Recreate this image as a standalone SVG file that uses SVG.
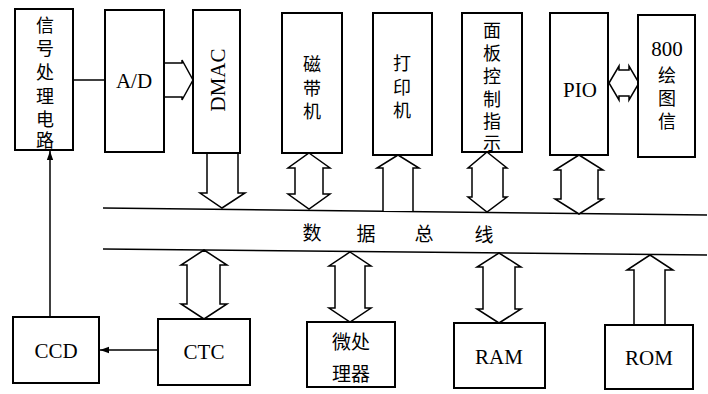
<svg xmlns="http://www.w3.org/2000/svg" width="708" height="394" viewBox="0 0 708 394">
<defs>
<marker id="ah" viewBox="0 0 10 10" refX="10" refY="5" markerWidth="9" markerHeight="9" markerUnits="userSpaceOnUse" orient="auto">
<path d="M0,1.5 L10,5 L0,8.5 Z" fill="#000"/>
</marker>
<style>
.box{fill:#fff;stroke:#000;stroke-width:2}
.cn{font-family:"Noto Sans CJK SC","Noto Sans CJK JP",sans-serif;font-size:19px;fill:#000;text-anchor:middle;dominant-baseline:central}
.vc{font-family:"Noto Sans CJK SC","Noto Sans CJK JP",sans-serif;font-size:18px;fill:#000;text-anchor:middle;dominant-baseline:central}
.lt{font-family:"Liberation Serif",serif;font-size:21px;fill:#000;text-anchor:middle;dominant-baseline:central}
.fat{fill:#fff;stroke:#000;stroke-width:1.5;stroke-linejoin:miter}
.ln{fill:none;stroke:#000;stroke-width:1.5}
</style>
</defs>
<rect width="708" height="394" fill="#fff"/>

<g id="connectors">
<line class="ln" x1="73" y1="80" x2="104" y2="80"/>
<line class="ln" x1="50" y1="317" x2="50" y2="151" marker-end="url(#ah)"/>
<line class="ln" x1="158" y1="350" x2="100" y2="350" marker-end="url(#ah)"/>
<line class="ln" x1="103" y1="208" x2="707" y2="215" stroke-width="2"/>
<line class="ln" x1="103" y1="249" x2="707" y2="255" stroke-width="2"/>
<path class="fat" d="M164,63 L182,63 L182,60 L193,80 L182,100 L182,97 L164,97"/>
<path class="fat" d="M207,153 L207,193 L200,193 L222,208 L245,193 L238,193 L238,153"/>
<path class="fat" d="M309,153 L330,168 L323,168 L323,194 L330,194 L309,209 L288,194 L295,194 L295,168 L288,168 Z"/>
<path class="fat" d="M383,211 L383,168 L377,168 L398,155 L419,168 L413,168 L413,211"/>
<path class="fat" d="M487,152 L507,168 L503,168 L503,197 L507,197 L487,212 L468,197 L472,197 L472,168 L468,168 Z"/>
<path class="fat" d="M579,155 L603,170 L598,170 L598,199 L603,199 L579,214 L555,199 L561,199 L561,170 L555,170 Z"/>
<path class="fat" d="M609,83 L619,66 L619,70 L629,70 L629,66 L639,83 L629,100 L629,96 L619,96 L619,100 Z"/>
<path class="fat" d="M204,250 L227,265 L220,265 L220,304 L227,304 L204,319 L181,304 L187,304 L187,265 L181,265 Z"/>
<path class="fat" d="M350,252 L371,266 L365,266 L365,308 L371,308 L350,322 L329,308 L335,308 L335,266 L329,266 Z"/>
<path class="fat" d="M499,253 L521,267 L515,267 L515,309 L521,309 L499,323 L477,309 L483,309 L483,267 L477,267 Z"/>
<path class="fat" d="M634,325 L634,270 L627,270 L650,255 L673,270 L665,270 L665,325"/>
</g>

<g id="bus-label">
<text class="cn" x="312" y="231">数</text>
<text class="cn" x="366" y="232">据</text>
<text class="cn" x="424" y="232">总</text>
<text class="cn" x="484" y="233">线</text>
</g>

<g id="signal">
<rect class="box" x="15" y="9" width="58" height="141"/>
<text class="vc" x="45" y="24">信</text>
<text class="vc" x="45" y="47">号</text>
<text class="vc" x="45" y="71">处</text>
<text class="vc" x="45" y="95">理</text>
<text class="vc" x="45" y="118">电</text>
<text class="vc" x="45" y="139">路</text>
</g>
<g id="ad">
<rect class="box" x="105" y="10" width="59" height="142"/>
<text class="lt" x="134" y="81" font-size="22">A/D</text>
</g>
<g id="dmac">
<rect class="box" x="193" y="10" width="47" height="143"/>
<text class="lt" x="218" y="80" transform="rotate(-90 218 80)" font-size="22">DMAC</text>
</g>
<g id="tape">
<rect class="box" x="282" y="13" width="60" height="140"/>
<text class="vc" x="312" y="63">磁</text>
<text class="vc" x="312" y="87">带</text>
<text class="vc" x="312" y="110">机</text>
</g>
<g id="printer">
<rect class="box" x="373" y="13" width="59" height="142"/>
<text class="vc" x="402" y="62">打</text>
<text class="vc" x="402" y="86">印</text>
<text class="vc" x="402" y="109">机</text>
</g>
<g id="panel">
<rect class="box" x="462" y="13" width="60" height="139"/>
<text class="vc" x="492" y="29">面</text>
<text class="vc" x="492" y="52">板</text>
<text class="vc" x="492" y="75">控</text>
<text class="vc" x="492" y="98">制</text>
<text class="vc" x="492" y="120">指</text>
<text class="vc" x="492" y="142">示</text>
</g>
<g id="pio">
<rect class="box" x="550" y="13" width="58" height="142"/>
<text class="lt" x="580" y="90" font-size="22">PIO</text>
</g>
<g id="plotter">
<rect class="box" x="638" y="15" width="57" height="142"/>
<text class="lt" x="667" y="49">800</text>
<text class="vc" x="667" y="74">绘</text>
<text class="vc" x="667" y="97">图</text>
<text class="vc" x="667" y="120">信</text>
</g>
<g id="ccd">
<rect class="box" x="13" y="317" width="86" height="66"/>
<text class="lt" x="56" y="351">CCD</text>
</g>
<g id="ctc">
<rect class="box" x="158" y="319" width="92" height="66"/>
<text class="lt" x="204" y="352">CTC</text>
</g>
<g id="cpu">
<rect class="box" x="307" y="322" width="88" height="65"/>
<text class="cn" x="351" y="340">微处</text>
<text class="cn" x="351" y="372">理器</text>
</g>
<g id="ram">
<rect class="box" x="454" y="323" width="91" height="65"/>
<text class="lt" x="499" y="357">RAM</text>
</g>
<g id="rom">
<rect class="box" x="605" y="325" width="88" height="64"/>
<text class="lt" x="649" y="358">ROM</text>
</g>
</svg>
